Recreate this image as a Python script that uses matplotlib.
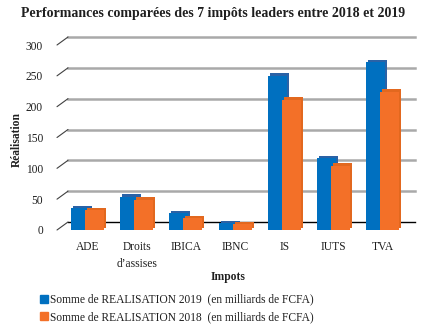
import matplotlib
matplotlib.use("Agg")
import matplotlib.pyplot as plt
from matplotlib.transforms import ScaledTranslation
from matplotlib.patches import Patch

categories = ["ADE", "Droits\nd\u2019assises", "IBICA", "IBNC", "IS", "IUTS", "TVA"]
real_2019 = [35, 54, 27, 11, 250, 116, 272]
real_2018 = [32, 49, 19, 9, 211, 104, 224]
yticks = [0, 50, 100, 150, 200, 250, 300]
series_labels = ["Somme de REALISATION 2019  (en milliards de FCFA)",
                 "Somme de REALISATION 2018  (en milliards de FCFA)"]

plt.rcParams['font.family'] = ['Liberation Serif', 'DejaVu Serif']
TXT = "#1f1f1f"
BLUE, BLUE_D = "#0070c0", "#2a62a6"
ORANGE, ORANGE_D = "#f37028", "#e2681f"

W, H = 422, 324
fig = plt.figure(figsize=(W/100, H/100), dpi=100)
left, right, y0, ytop = 57, 404, 230, 45
ax = fig.add_axes([left/W, (H-y0)/H, (right-left)/W, (y0-ytop)/H])
ax.set_xlim(-0.62, 6.43)
ax.set_ylim(0, 300)
for s in ax.spines.values():
    s.set_visible(False)
ax.patch.set_alpha(0)

dx, dy = 11, 8
back = ax.transData + ScaledTranslation(dx/100, dy/100, fig.dpi_scale_trans)
xl = ax.get_xlim()
for v in yticks:
    ax.plot(xl, [v, v], transform=back, color="black" if v == 0 else "#a9a9a9",
            lw=1.0 if v == 0 else 1.8, clip_on=False, zorder=1)
    ax.annotate("", xy=(xl[0], v), xytext=(dx, dy), textcoords="offset pixels",
                arrowprops=dict(arrowstyle="-", color="#404040", lw=0.8,
                                shrinkA=0, shrinkB=0), annotation_clip=False)

x = list(range(len(categories)))
bw, off = 0.386, 0.142
cap = ax.transData + ScaledTranslation(2/100, 2.5/100, fig.dpi_scale_trans)
xb = [i - off for i in x]
xo = [i + off for i in x]
ax.bar(xb, real_2019, bw, color=BLUE_D, transform=cap, zorder=2)
ax.bar(xb, real_2019, bw, color=BLUE, zorder=3)
ax.bar(xo, real_2018, bw, color=ORANGE_D, transform=cap, zorder=4)
ax.bar(xo, real_2018, bw, color=ORANGE, zorder=5)

ax.set_yticks(yticks)
ax.set_yticklabels([str(v) for v in yticks], fontsize=8.3, color=TXT)
ax.tick_params(axis="y", length=0, pad=10)
ax.set_xticks(x)
ax.set_xticklabels(categories, fontsize=8.3, color=TXT, linespacing=1.5)
ax.tick_params(axis="x", length=0, pad=8)

fig.text(17/W, 1-140/H, "Réalisation", rotation=90, ha="center", va="center",
         fontsize=8.3, fontweight="bold", color=TXT)
fig.text(228/W, 1-277/H, "Impots", ha="center", va="center",
         fontsize=8.3, fontweight="bold", color=TXT)
fig.text(213/W, 1-13/H, "Performances comparées des 7 impôts leaders entre 2018 et 2019",
         ha="center", va="center", fontsize=10, fontweight="bold", color=TXT)

handles = [Patch(color=BLUE), Patch(color=ORANGE)]
fig.legend(handles, series_labels, loc="upper left", bbox_to_anchor=(34/W, 1-288/H),
           frameon=False, fontsize=8.3, handlelength=0.7, handleheight=0.7,
           handletextpad=0.2, labelspacing=0.45, borderpad=0, labelcolor=TXT)

fig.savefig("out.png", dpi=100)
